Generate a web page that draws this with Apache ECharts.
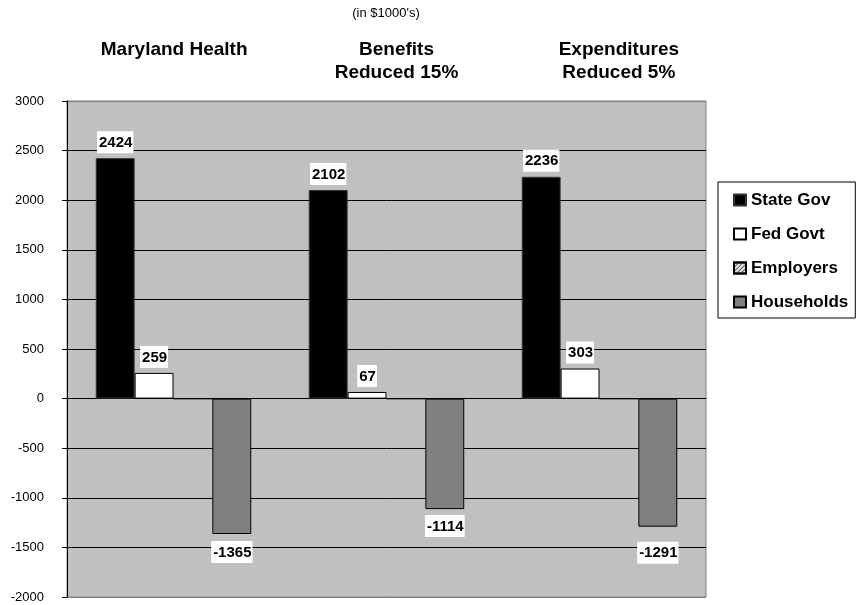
<!DOCTYPE html>
<html>
<head>
<meta charset="utf-8">
<script src="https://cdn.jsdelivr.net/npm/echarts@6/dist/echarts.min.js"></script>
<style>
  html, body { margin: 0; padding: 0; background: #fff; }
  #chart { width: 856px; height: 605px; }
</style>
</head>
<body>
<div id="chart"></div>
<script>
// Scenario names (shown as column headers above the plot)
const scenarios = ['Maryland Health', 'Benefits\nReduced 15%', 'Expenditures\nReduced 5%'];

// Impact by payer, in $1000's
const stateGov   = [2424, 2102, 2236];
const fedGovt    = [259, 67, 303];
const employers  = [0, 0, 0];
const households = [-1365, -1114, -1291];

// Value axis
const yMin = -2000;
const yMax = 3000;
const yStep = 500;

// Extra downward shift (px) of the household value labels, per scenario
const householdLabelNudge = [2, 1, 10];

const FONT = 'Liberation Sans, Arial, sans-serif';

const valueLabel = (pos) => ({
  show: true,
  position: pos,
  distance: 5,
  color: '#000',
  fontFamily: FONT,
  fontWeight: 'bold',
  fontSize: 15,
  lineHeight: 17,
  backgroundColor: '#fff',
  padding: [3, 1, 2, 2]
});

// Gridline colours: plot-area border colour at both ends, black inside
const nLines = Math.round((yMax - yMin) / yStep) + 1;
const gridColors = [];
for (let i = 0; i < nLines; i++) {
  gridColors.push(i === 0 || i === nLines - 1 ? '#808080' : '#000');
}

const chart = echarts.init(document.getElementById('chart'), null, { renderer: 'canvas' });

chart.setOption({
  animation: false,
  backgroundColor: '#fff',
  title: {
    text: "(in $1000's)",
    left: 381,
    textAlign: 'center',
    top: 2,
    textStyle: { fontFamily: FONT, fontSize: 13, fontWeight: 'normal', color: '#000' }
  },
  legend: {
    orient: 'vertical',
    left: 718,
    top: 182,
    padding: [8, 7, 6, 15],
    itemGap: 14,
    itemWidth: 12,
    itemHeight: 11,
    borderColor: '#000',
    borderWidth: 1,
    backgroundColor: '#fff',
    textStyle: { fontFamily: FONT, fontSize: 17, lineHeight: 20, fontWeight: 'bold', color: '#000' },
    data: [
      { name: 'State Gov', icon: 'rect' },
      { name: 'Fed Govt', icon: 'rect' },
      { name: 'Employers', icon: 'rect' },
      { name: 'Households', icon: 'rect' }
    ]
  },
  grid: [
    { left: 67, right: 150, top: 101, bottom: 8, show: true, backgroundColor: '#c0c0c0', borderColor: '#808080', borderWidth: 1 },
    { left: 63, right: 126, top: 101, bottom: 8 }
  ],
  xAxis: [
    {
      type: 'category',
      gridIndex: 0,
      data: scenarios,
      axisLine: { onZero: true, lineStyle: { color: '#000', width: 1 } },
      axisTick: { show: false },
      axisLabel: { show: false },
      splitLine: { show: false }
    },
    {
      type: 'category',
      gridIndex: 1,
      position: 'top',
      data: scenarios,
      axisLine: { show: false },
      axisTick: { show: false },
      axisLabel: {
        show: true,
        interval: 0,
        verticalAlign: 'top',
        margin: 63,
        fontFamily: FONT,
        fontSize: 19,
        fontWeight: 'bold',
        color: '#000',
        lineHeight: 23,
        align: 'center'
      }
    }
  ],
  yAxis: [
    {
      type: 'value',
      gridIndex: 0,
      min: yMin,
      max: yMax,
      interval: yStep,
      axisLine: { show: true, lineStyle: { color: '#000' } },
      axisTick: { show: true, inside: false, length: 5, lineStyle: { color: '#000' } },
      axisLabel: {
        margin: 23,
        fontFamily: FONT,
        fontSize: 13,
        color: '#000',
        formatter: (v) => String(v)
      },
      splitLine: { show: true, lineStyle: { color: gridColors, width: 1 } }
    },
    {
      type: 'value',
      gridIndex: 1,
      min: yMin,
      max: yMax,
      show: false
    }
  ],
  series: [
    {
      name: 'State Gov',
      type: 'bar',
      data: stateGov,
      barGap: '0%',
      barCategoryGap: '27%',
      itemStyle: { color: '#000', borderColor: '#333', borderWidth: 1 },
      label: valueLabel('top')
    },
    {
      name: 'Fed Govt',
      type: 'bar',
      data: fedGovt,
      itemStyle: { color: '#fff', borderColor: '#000', borderWidth: 1 },
      label: valueLabel('top')
    },
    {
      name: 'Employers',
      type: 'bar',
      data: employers,
      itemStyle: {
        color: '#e6e6e6',
        borderColor: '#000',
        borderWidth: 1,
        decal: {
          symbol: 'rect',
          symbolSize: 1,
          dashArrayX: [1, 0],
          dashArrayY: [1, 2],
          rotation: -Math.PI / 4,
          color: '#606060'
        }
      },
      label: { show: false }
    },
    {
      name: 'Households',
      type: 'bar',
      data: households,
      itemStyle: { color: '#808080', borderColor: '#000', borderWidth: 1 },
      label: valueLabel('bottom'),
      labelLayout: (params) => ({ dy: householdLabelNudge[params.dataIndex] || 0 })
    }
  ]
});
</script>
</body>
</html>
